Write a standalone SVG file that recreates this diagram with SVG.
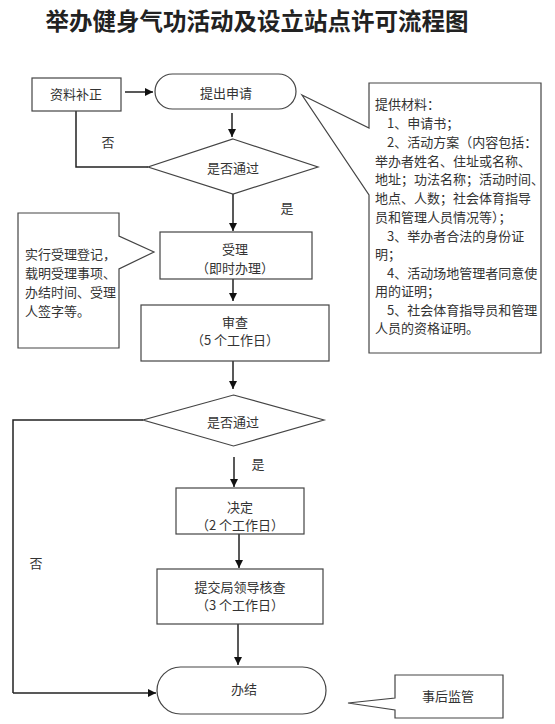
<svg xmlns="http://www.w3.org/2000/svg" width="555" height="724" viewBox="0 0 555 724">
<defs>
<marker id="ah" viewBox="0 0 10 10" refX="10" refY="5" markerWidth="8" markerHeight="8" markerUnits="userSpaceOnUse" orient="auto">
<path d="M0,0 L10,5 L0,10 z" fill="#111"/>
</marker>
<style>
.bx{fill:#fff;stroke:#444;stroke-width:1.2}
.t{font-family:"Noto Sans CJK SC","Noto Sans",sans-serif;font-size:13px;fill:#333;dominant-baseline:central}
.c{text-anchor:middle}
.ln{fill:none;stroke:#222;stroke-width:1.5}
.ar{fill:none;stroke:#222;stroke-width:1.5;marker-end:url(#ah)}
</style>
</defs>
<rect width="555" height="724" fill="#fff"/>
<text x="257" y="20" text-anchor="middle" dominant-baseline="central" style="font-family:'Noto Sans CJK SC',sans-serif;font-size:23.5px;font-weight:bold;fill:#222">举办健身气功活动及设立站点许可流程图</text>

<g id="connectors">
<path class="ar" d="M125,92 L153,92"/>
<path class="ar" d="M232,113 L232,137"/>
<path class="ln" d="M148,167 L76,167 L76,111"/>
<path class="ar" d="M233,194 L233,231"/>
<path class="ar" d="M233,279 L233,301"/>
<path class="ar" d="M233,361 L233,389"/>
<path class="ln" d="M143,420 L13,420 L13,693"/>
<path class="ar" d="M13,693 L156,693"/>
<path class="ar" d="M234,457 L234,487"/>
<path class="ar" d="M239,534 L239,568"/>
<path class="ar" d="M238,624 L238,665"/>
<text class="t c" x="108" y="141">否</text>
<text class="t c" x="287" y="207">是</text>
<text class="t c" x="258" y="463">是</text>
<text class="t c" x="36" y="562">否</text>
</g>

<g id="n-buzheng">
<rect class="bx" x="32" y="78" width="89" height="33"/>
<text class="t c" x="76" y="93">资料补正</text>
</g>

<g id="n-tichu">
<rect class="bx" x="155" y="74" width="141" height="35" rx="17.5"/>
<text class="t c" x="226" y="92">提出申请</text>
</g>

<g id="n-cailiao">
<path class="bx" d="M369,83 L541,83 L541,353 L369,353 L369,195 L302,95 L369,128 Z"/>
<text class="t" x="375" y="103">提供材料：</text>
<text class="t" x="387" y="122">1、申请书；</text>
<text class="t" x="387" y="141">2、活动方案（内容包括：</text>
<text class="t" x="375" y="160">举办者姓名、住址或名称、</text>
<text class="t" x="375" y="178">地址；功法名称；活动时间、</text>
<text class="t" x="375" y="197">地点、人数；社会体育指导</text>
<text class="t" x="375" y="216">员和管理人员情况等）；</text>
<text class="t" x="387" y="235">3、举办者合法的身份证</text>
<text class="t" x="375" y="253">明；</text>
<text class="t" x="387" y="272">4、活动场地管理者同意使</text>
<text class="t" x="375" y="290">用的证明；</text>
<text class="t" x="387" y="309">5、社会体育指导员和管理</text>
<text class="t" x="375" y="327">人员的资格证明。</text>
</g>

<g id="n-tongguo1">
<polygon class="bx" points="233,139 318,167 233,194 148,167"/>
<text class="t c" x="233" y="167">是否通过</text>
</g>

<g id="n-shouli">
<rect class="bx" x="160" y="232" width="152" height="47"/>
<text class="t c" x="235" y="248">受理</text>
<text class="t c" x="235" y="267">（即时办理）</text>
</g>

<g id="n-dengji">
<path class="bx" d="M18,213 L119,213 L119,236 L154,252 L119,269 L119,348 L18,348 Z"/>
<text class="t" x="25" y="253">实行受理登记，</text>
<text class="t" x="25" y="272">载明受理事项、</text>
<text class="t" x="25" y="291">办结时间、受理</text>
<text class="t" x="25" y="310">人签字等。</text>
</g>

<g id="n-shencha">
<rect class="bx" x="141" y="305" width="188" height="56"/>
<text class="t c" x="235" y="321">审查</text>
<text class="t c" x="235" y="339">（5 个工作日）</text>
</g>

<g id="n-tongguo2">
<polygon class="bx" points="233.5,395 324,420 233.5,446 143,420"/>
<text class="t c" x="233" y="421">是否通过</text>
</g>

<g id="n-jueding">
<rect class="bx" x="176" y="488" width="128" height="46"/>
<text class="t c" x="240" y="506">决定</text>
<text class="t c" x="240" y="524">（2 个工作日）</text>
</g>

<g id="n-tijiao">
<rect class="bx" x="157" y="569" width="166" height="55"/>
<text class="t c" x="240" y="586">提交局领导核查</text>
<text class="t c" x="240" y="604">（3 个工作日）</text>
</g>

<g id="n-banjie">
<rect class="bx" x="157" y="667" width="169" height="47" rx="23.5"/>
<text class="t c" x="244" y="688">办结</text>
</g>

<g id="n-jianguan">
<path class="bx" d="M395,675 L503,675 L503,718 L395,718 L395,710 L348,703 L395,698 Z"/>
<text class="t c" x="448" y="695">事后监管</text>
</g>
</svg>
